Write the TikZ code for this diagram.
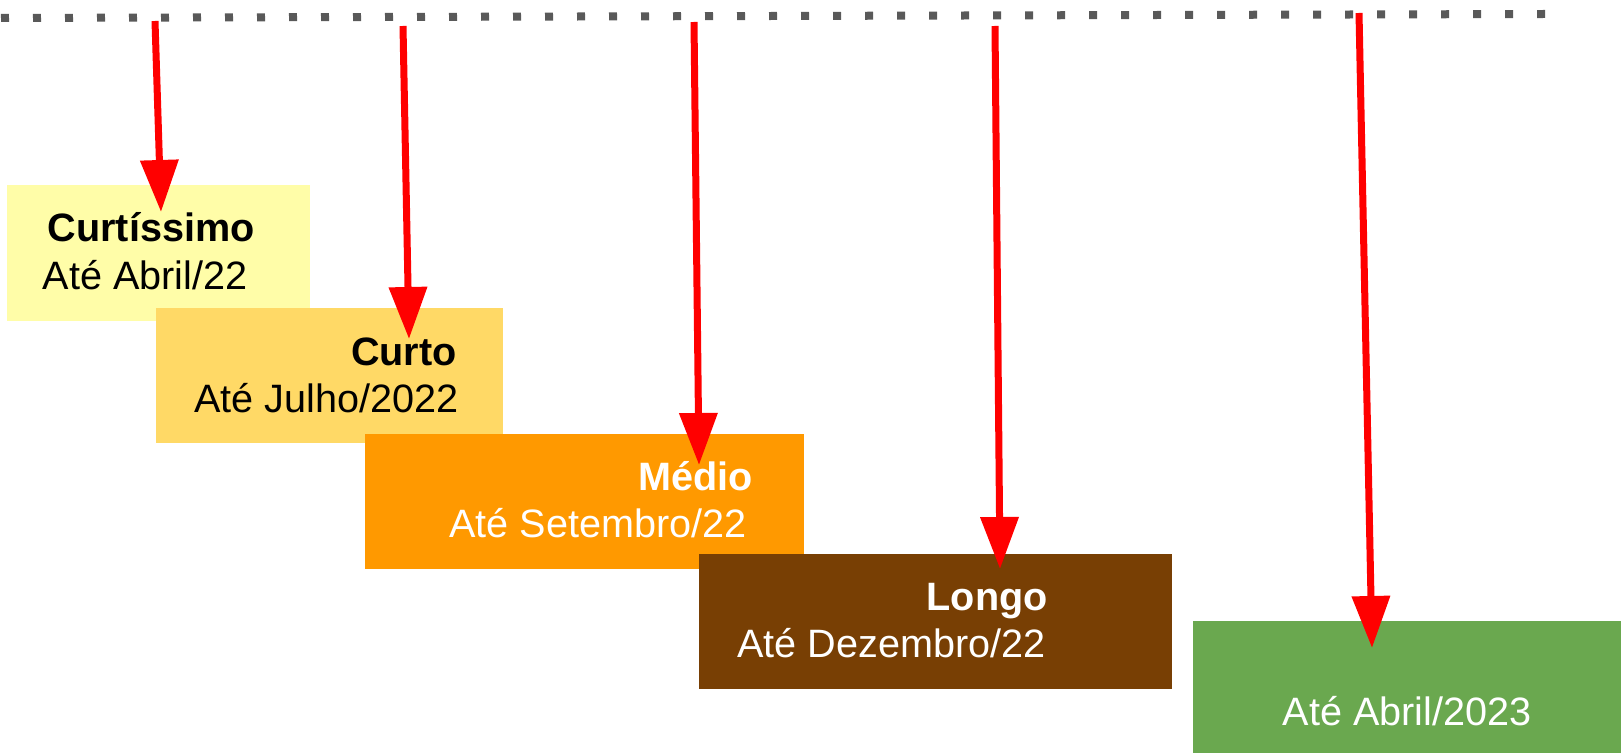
\documentclass[tikz,border=0pt]{standalone}
\usepackage{fontspec}
\setmainfont{Liberation Sans}
\usetikzlibrary{arrows.meta}
\definecolor{paleyellow}{HTML}{FFFDA8}
\definecolor{lightyellow}{HTML}{FFD966}
\definecolor{orange}{HTML}{FF9900}
\definecolor{darkbrown}{HTML}{783F04}
\definecolor{darkgreen}{HTML}{6AA84F}
\definecolor{dotgray}{HTML}{595959}

\begin{document}
\begin{tikzpicture}[x=0.5pt,y=-0.5pt]
\tikzstyle{period}=[rectangle,inner sep=0,outer sep=0,anchor=north west]
\tikzstyle{head}=[inner sep=0,anchor=base east,font=\fontsize{19.8}{22}\selectfont\bfseries]
\tikzstyle{until}=[inner sep=0,anchor=base east,font=\fontsize{19.8}{22}\selectfont]
\tikzstyle{pointer}=[draw=red,line width=3.5pt,-{Triangle[length=26pt,width=18.5pt]}]
\useasboundingbox (0,0) rectangle (1621,753);
\coordinate (d0) at (1,18);
\coordinate (d1) at (1545,14);
\draw[dotgray,line width=4pt,dash pattern=on 4pt off 12pt] (d0) -- (d1);
\node[period,fill=paleyellow,minimum width=151.5pt,minimum height=68pt] (p1) at (7,185) {};
\node[period,fill=lightyellow,minimum width=173.5pt,minimum height=67.5pt] (p2) at (156,308) {};
\node[period,fill=orange,minimum width=219.5pt,minimum height=67.5pt] (p3) at (365,434) {};
\node[period,fill=darkbrown,minimum width=236.5pt,minimum height=67.5pt] (p4) at (699,554) {};
\node[period,fill=darkgreen,minimum width=214pt,minimum height=66pt] (p5) at (1193,621) {};
\node[head] (h1) at (255,242) {Curtíssimo};
\node[until] (u1) at (248,290) {Até Abril/22};
\node[head] (h2) at (457,365) {Curto};
\node[until] (u2) at (459,413) {Até Julho/2022};
\node[head,white] (h3) at (753,490) {Médio};
\node[until,white] (u3) at (747,537) {Até Setembro/22};
\node[head,white] (h4) at (1048,610) {Longo};
\node[until,white] (u4) at (1046,657) {Até Dezembro/22};
\node[until,white] (u5) at (1532,725) {Até Abril/2023};
\coordinate (t1) at (155,21);
\coordinate (t2) at (403,26);
\coordinate (t3) at (694,22);
\coordinate (t4) at (995,26);
\coordinate (t5) at (1359,13);
\coordinate (e1) at (161,212);
\coordinate (e2) at (409,339);
\coordinate (e3) at (699,465);
\coordinate (e4) at (1000,569);
\coordinate (e5) at (1372,648);
\draw[pointer] (t1) -- (e1);
\draw[pointer] (t2) -- (e2);
\draw[pointer] (t3) -- (e3);
\draw[pointer] (t4) -- (e4);
\draw[pointer] (t5) -- (e5);
\end{tikzpicture}
\end{document}
